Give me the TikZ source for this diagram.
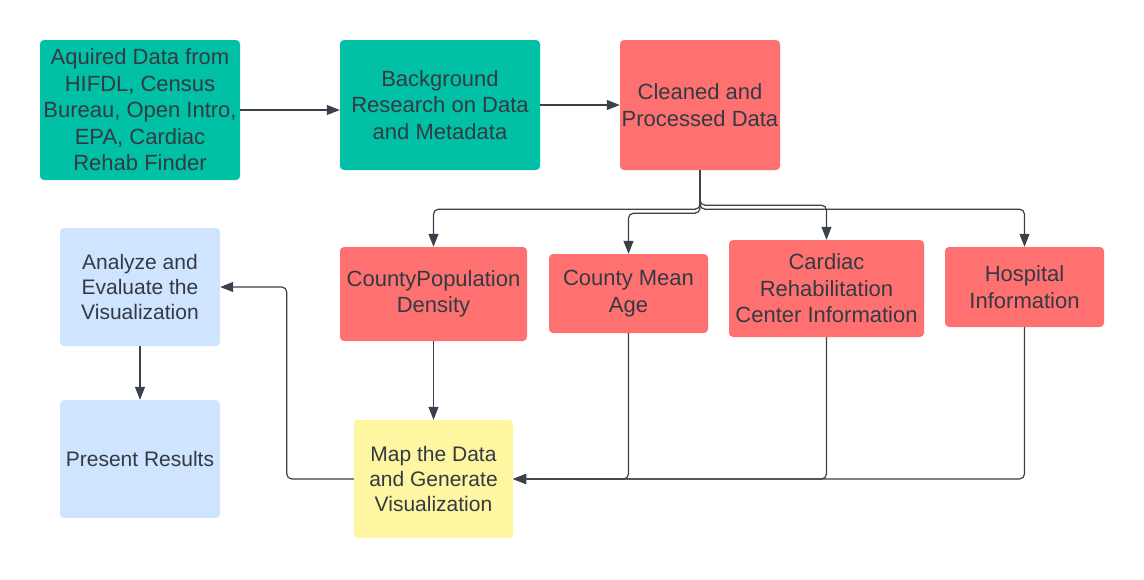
\documentclass[tikz,border=0pt]{standalone}
\usepackage{fontspec}
\setmainfont{Liberation Sans}
\usetikzlibrary{arrows.meta}
\definecolor{tealbox}{RGB}{0,192,165}
\definecolor{redbox}{RGB}{255,113,113}
\definecolor{bluebox}{RGB}{207,228,255}
\definecolor{yellowbox}{RGB}{255,246,162}
\definecolor{txt}{RGB}{52,58,66}
\definecolor{ln}{RGB}{58,65,74}
\tikzset{
  box/.style={draw=none, rounded corners=4pt, align=center, text=txt, inner sep=0pt,
    font=\fontsize{22}{26.5}\selectfont},
  bluestyle/.style={box, fill=bluebox, font=\fontsize{21}{25}\selectfont},
  arr/.style={draw=ln, line width=1.2pt, rounded corners=5pt,
    -{Triangle[length=13pt,width=10pt]}},
}
\begin{document}
\begin{tikzpicture}[x=1pt,y=-1pt]
\useasboundingbox (0,0) rectangle (1144,579);
\node[box, fill=tealbox, minimum width=200pt, minimum height=140pt] (A) at (140,110)
  {Aquired Data from\\HIFDL, Census\\Bureau, Open Intro,\\EPA, Cardiac\\Rehab Finder};
\node[box, fill=tealbox, minimum width=200pt, minimum height=130pt] (B) at (440,105)
  {Background\\Research on Data\\and Metadata};
\node[box, fill=redbox, minimum width=160pt, minimum height=130pt] (C) at (700,105)
  {Cleaned and\\Processed Data};
\node[box, fill=redbox, minimum width=187pt, minimum height=94pt] (CPD) at (433.5,294)
  {CountyPopulation\\Density};
\node[box, fill=redbox, minimum width=159pt, minimum height=79pt] (Age) at (628.5,293.5)
  {County Mean\\Age};
\node[box, fill=redbox, minimum width=195pt, minimum height=97pt] (Card) at (826.5,288.5)
  {Cardiac\\Rehabilitation\\Center Information};
\node[box, fill=redbox, minimum width=159pt, minimum height=80pt] (Hosp) at (1024.5,287)
  {Hospital\\Information};
\node[bluestyle, minimum width=160pt, minimum height=118pt] (An) at (140,287)
  {Analyze and\\Evaluate the\\Visualization};
\node[bluestyle, minimum width=160pt, minimum height=118pt] (Pr) at (140,459)
  {Present Results};
\node[bluestyle, fill=yellowbox, minimum width=159pt, minimum height=118pt] (Map) at (433.5,479)
  {Map the Data\\and Generate\\Visualization};
% top row
\draw[arr] (A.east) -- (A.east -| B.west);
\draw[arr] (B) -- (C);
% fork
\draw[arr] (C.south) -- ++(0,39) -| (CPD.north);
\draw[arr] (C.south) -- ++(0,43) -| (Age.north);
\draw[arr] (C.south) -- ++(0,35) -| (Card.north);
\draw[arr] (C.south) -- ++(0,39) -| (Hosp.north);
% into map
\draw[arr] (CPD) -- (Map);
\draw[arr] (Age.south) |- (Map.east);
\draw[arr] (Card.south) |- (Map.east);
\draw[arr] (Hosp.south) |- (Map.east);
% map to analyze
\draw[arr] (Map.west) -- ++(-67,0) |- (An.east);
\draw[arr] (An) -- (Pr);
\end{tikzpicture}
\end{document}
